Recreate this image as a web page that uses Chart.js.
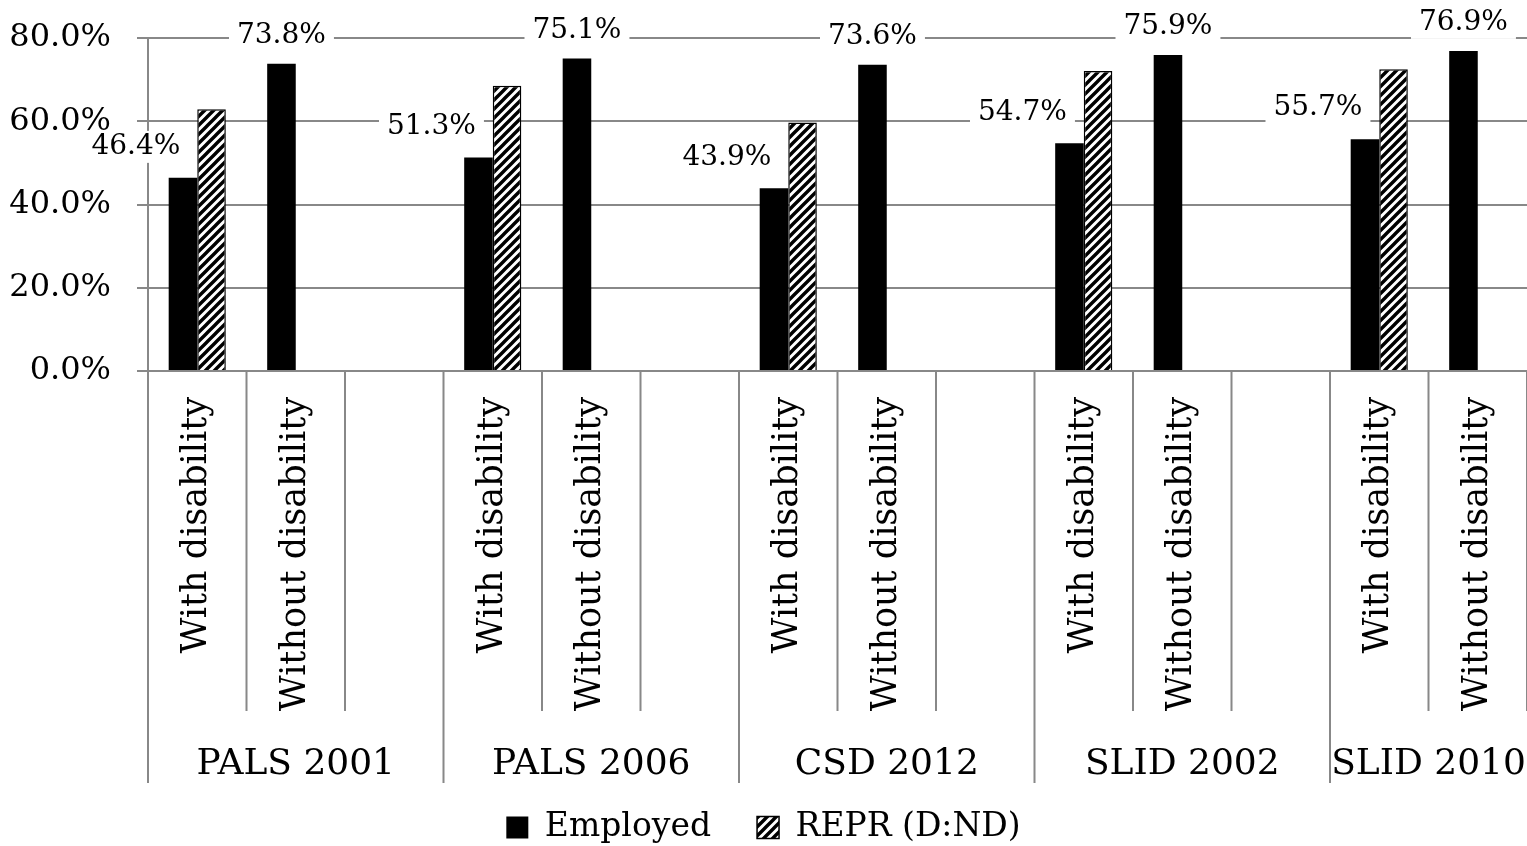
<!DOCTYPE html>
<html lang="en">
<head>
    <meta charset="UTF-8">
    <title>Employment rates by disability status</title>
    <script src="https://cdn.jsdelivr.net/npm/chart.js"></script>
    <style>
        html, body {
            margin: 0;
            padding: 0;
            background: #fff;
        }
        .chart-container {
            width: 1527px;
            height: 846px;
        }
    </style>
</head>
<body>
    <div class="chart-container">
        <canvas id="empChart"></canvas>
    </div>

    <script>
        // data
        const groups = ['PALS 2001', 'PALS 2006', 'CSD 2012', 'SLID 2002', 'SLID 2010'];
        const groupSizes = [3, 3, 3, 3, 2];
        const categories = [
            'With disability', 'Without disability', '',
            'With disability', 'Without disability', '',
            'With disability', 'Without disability', '',
            'With disability', 'Without disability', '',
            'With disability', 'Without disability'
        ];
        const employed = [46.4, 73.8, null, 51.3, 75.1, null, 43.9, 73.6, null, 54.7, 75.9, null, 55.7, 76.9];
        const repr = [62.9, null, null, 68.5, null, null, 59.7, null, null, 72.1, null, null, 72.5, null];
        const yTicks = [0, 20, 40, 60, 80];

        const FONT = 'DejaVu Serif';
        const GRID = '#888888';

        function makeHatch() {
            var s = 9;
            var c = document.createElement('canvas');
            c.width = s; c.height = s;
            var g = c.getContext('2d');
            g.fillStyle = '#fff';
            g.fillRect(0, 0, s, s);
            g.strokeStyle = '#000';
            g.lineWidth = 3.4;
            g.beginPath();
            g.moveTo(-2, s + 2); g.lineTo(s + 2, -2);
            g.moveTo(-2, 2); g.lineTo(2, -2);
            g.moveTo(s - 2, s + 2); g.lineTo(s + 2, s - 2);
            g.stroke();
            return g.createPattern(c, 'repeat');
        }

        // group labels + separators under the category labels
        const groupAxis = {
            id: 'groupAxis',
            afterDraw(chart) {
                var x = chart.scales.x, ctx = chart.ctx;
                var half = (x.getPixelForValue(1) - x.getPixelForValue(0)) / 2;
                var idx = 0;
                ctx.save();
                ctx.strokeStyle = GRID;
                ctx.lineWidth = 2;
                ctx.fillStyle = '#000';
                ctx.font = '36px "' + FONT + '"';
                ctx.textAlign = 'center';
                ctx.textBaseline = 'middle';
                groupSizes.forEach(function (n, g) {
                    var left = x.getPixelForValue(idx) - half;
                    var right = x.getPixelForValue(idx + n - 1) + half;
                    ctx.beginPath();
                    ctx.moveTo(left, x.top);
                    ctx.lineTo(left, x.top + 412);
                    for (var k = 1; k < n; k++) {
                        var bx = x.getPixelForValue(idx + k) - half;
                        ctx.moveTo(bx, x.top);
                        ctx.lineTo(bx, x.top + 340);
                    }
                    if (g === groupSizes.length - 1) {
                        ctx.moveTo(right, x.top);
                        ctx.lineTo(right, x.top + 340);
                    }
                    ctx.stroke();
                    ctx.fillText(groups[g], (left + right) / 2, x.top + 394);
                    idx += n;
                });
                ctx.restore();
            }
        };

        // value labels on the Employed bars, white box behind them
        const valueLabels = {
            id: 'valueLabels',
            afterDraw(chart) {
                var ctx = chart.ctx;
                var meta = chart.getDatasetMeta(0);
                ctx.save();
                ctx.font = '28px "' + FONT + '"';
                ctx.textAlign = 'center';
                ctx.textBaseline = 'middle';
                meta.data.forEach(function (bar, i) {
                    var v = employed[i];
                    if (v === null) return;
                    var txt = v.toFixed(1) + '%';
                    var cx = bar.x, cy = bar.y - 28;
                    if (categories[i] === 'With disability') {
                        cx = bar.x - 47;
                        cy = bar.y - 31;
                    }
                    var w = ctx.measureText(txt).width + 16;
                    ctx.fillStyle = '#fff';
                    ctx.fillRect(cx - w / 2, cy - 16, w, 32);
                    ctx.fillStyle = '#000';
                    ctx.fillText(txt, cx, cy);
                });
                ctx.restore();
            }
        };

        var ctx = document.getElementById('empChart').getContext('2d');
        new Chart(ctx, {
            type: 'bar',
            data: {
                labels: categories,
                datasets: [{
                    label: 'Employed',
                    data: employed,
                    backgroundColor: '#000',
                    borderWidth: 0
                }, {
                    label: 'REPR (D:ND)',
                    data: repr,
                    backgroundColor: makeHatch(),
                    borderColor: '#000',
                    borderWidth: 1.5
                }]
            },
            options: {
                responsive: true,
                maintainAspectRatio: false,
                animation: false,
                categoryPercentage: 0.58,
                barPercentage: 1.0,
                layout: {
                    padding: { top: 38, right: 0, left: 0, bottom: -8 }
                },
                scales: {
                    x: {
                        grid: { display: false },
                        border: { display: true, color: GRID, width: 2 },
                        ticks: {
                            color: '#000',
                            font: { family: FONT, size: 35 },
                            minRotation: 90,
                            maxRotation: 90,
                            autoSkip: false,
                            padding: 18
                        },
                        afterFit: function (s) {
                            s.height = 394;
                            s.paddingLeft = 0;
                            s.paddingRight = 0;
                        }
                    },
                    y: {
                        min: 0,
                        max: 80,
                        afterBuildTicks: function (s) {
                            s.ticks = yTicks.map(function (v) { return { value: v }; });
                        },
                        grid: { color: GRID, lineWidth: 2, tickLength: 11 },
                        border: { display: true, color: GRID, width: 2 },
                        ticks: {
                            color: '#000',
                            font: { family: FONT, size: 32 },
                            padding: 26,
                            callback: function (v) { return v.toFixed(1) + '%'; }
                        },
                        afterFit: function (s) {
                            s.width = 148;
                            s.paddingTop = 0;
                            s.paddingBottom = 0;
                        }
                    }
                },
                plugins: {
                    legend: {
                        position: 'bottom',
                        labels: {
                            color: '#000',
                            font: { family: FONT, size: 33 },
                            boxWidth: 22,
                            boxHeight: 22,
                            padding: 46
                        }
                    },
                    tooltip: { enabled: false }
                }
            },
            plugins: [groupAxis, valueLabels]
        });
    </script>
</body>
</html>
